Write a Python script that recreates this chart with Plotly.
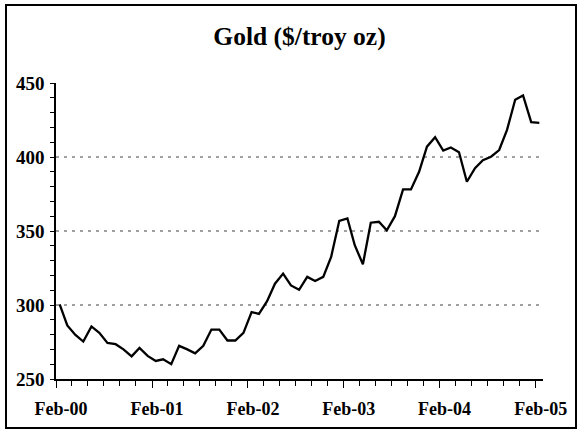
import plotly.graph_objects as go
import pandas as pd

# Monthly gold price, Feb 2000 .. Feb 2005 ($/troy oz)
start_month = "2000-02-01"
n_months = 61
prices = [300.4, 286.2, 279.8, 275.3, 285.5, 281.2, 274.4, 273.5, 270.0, 265.3,
          271.0, 265.6, 262.2, 263.3, 260.0, 272.4, 270.0, 267.4, 272.4, 283.4,
          283.4, 276.0, 276.0, 281.2, 295.2, 294.0, 302.6, 314.4, 321.2, 313.2,
          310.3, 319.0, 316.2, 319.0, 332.5, 356.9, 358.5, 340.4, 327.5, 355.6,
          356.2, 350.5, 360.0, 378.1, 378.1, 390.0, 407.0, 413.4, 404.3, 406.4,
          403.2, 383.3, 392.4, 397.8, 400.2, 404.7, 418.3, 438.7, 441.6, 423.6,
          423.0]
title_text = "Gold ($/troy oz)"

months = pd.date_range(start=start_month, periods=n_months, freq="MS")
dates = months + pd.Timedelta(days=14)

W, H = 580, 437
ml, mr, mt, mb = 56, 37, 83, 58
pw, ph = W - ml - mr, H - mt - mb

fig = go.Figure()
fig.add_trace(go.Scatter(x=dates, y=prices, mode="lines",
                         line=dict(color="black", width=2.3),
                         hoverinfo="skip", showlegend=False))

font_family = "Liberation Serif"

fig.update_layout(
    width=W, height=H,
    margin=dict(l=ml, r=mr, t=mt, b=mb),
    paper_bgcolor="white", plot_bgcolor="white",
    title=dict(text=title_text, x=0.5, xref="paper", xanchor="center",
               y=1 - 36 / H, yref="container", yanchor="middle",
               font=dict(family=font_family, size=25.5, color="black", weight="bold")),
    xaxis=dict(type="date", range=["2000-02-01", "2005-03-01"],
               tick0="2000-02-01", dtick="M12", tickformat="%b-%y",
               ticks="outside", ticklen=7, tickcolor="black", tickwidth=1,
               minor=dict(dtick="M2", tick0="2000-02-01", ticks="outside",
                          ticklen=5, tickcolor="black", tickwidth=1, showgrid=False),
               showgrid=False, showline=True, linecolor="black", linewidth=1.5,
               zeroline=False, ticklabelshift=5, ticklabelstandoff=6,
               tickfont=dict(family=font_family, size=18, color="black", weight="bold")),
    yaxis=dict(range=[250, 450], dtick=50, tick0=250,
               ticks="outside", ticklen=4, tickcolor="black", tickwidth=1,
               minor=dict(dtick=10, ticks="outside", ticklen=4, tickcolor="black",
                          tickwidth=1, showgrid=False),
               showgrid=True, gridcolor="#a0a0a0", griddash="3px,5px", gridwidth=1.5,
               showline=True, linecolor="black", linewidth=1.5, zeroline=False,
               ticklabelstandoff=2,
               tickfont=dict(family=font_family, size=19, color="black", weight="bold")),
)

# outer border of the chart
def px_to_paper_x(px):
    return (px - ml) / pw

def px_to_paper_y(py):
    return 1 - (py - mt) / ph

fig.add_shape(type="rect", xref="paper", yref="paper",
              x0=px_to_paper_x(6), x1=px_to_paper_x(576),
              y0=px_to_paper_y(428), y1=px_to_paper_y(5),
              line=dict(color="black", width=2), fillcolor="rgba(0,0,0,0)",
              layer="above")

fig.write_html("out.html", config={"displayModeBar": False},
               post_script="document.body.style.margin='0';document.body.style.overflow='hidden';")
